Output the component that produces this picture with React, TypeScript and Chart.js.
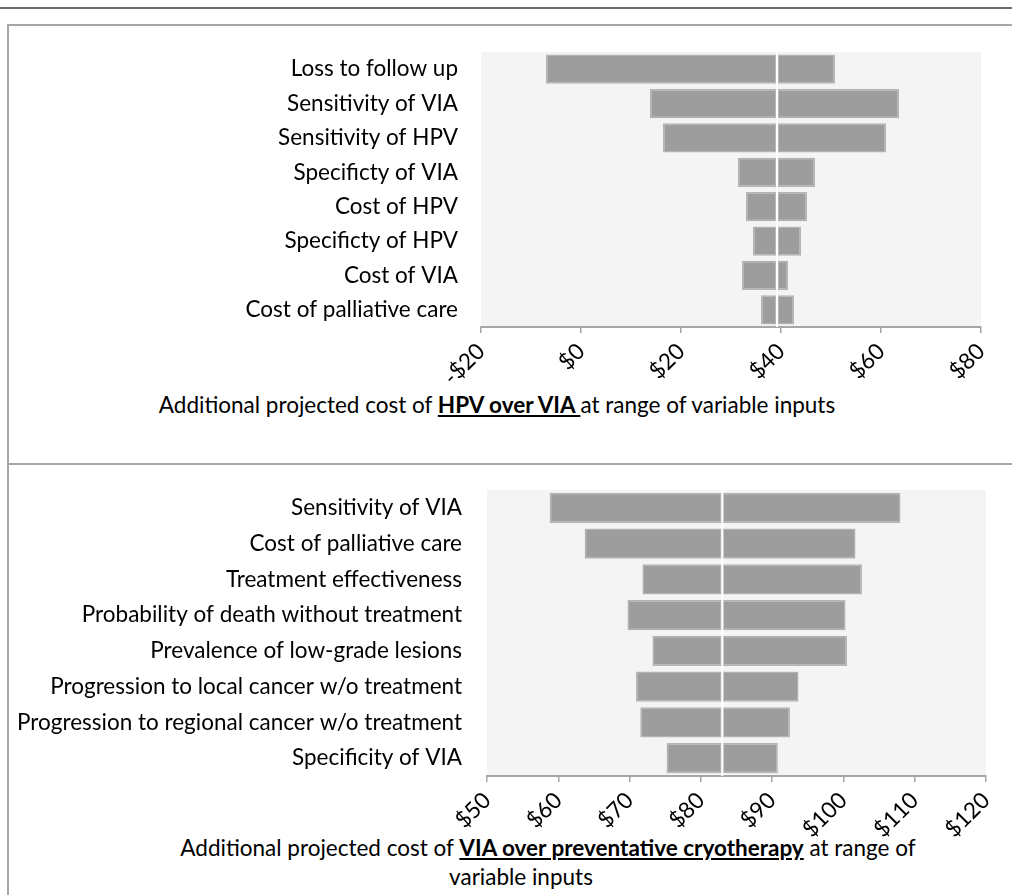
import React, { useEffect, useRef } from "react";
import { Chart, registerables } from "chart.js";

Chart.register(...registerables);

// ---------- Data ----------
const topCategories = [
  "Loss to follow up",
  "Sensitivity of VIA",
  "Sensitivity of HPV",
  "Specificty of VIA",
  "Cost of HPV",
  "Specificty of HPV",
  "Cost of VIA",
  "Cost of palliative care",
];
const topLow = [-7.0, 13.8, 16.4, 31.4, 33.0, 34.4, 32.2, 36.0];
const topHigh = [50.8, 63.6, 61.0, 46.8, 45.2, 44.0, 41.4, 42.6];
const topBase = 39.2;
const topTicks = { min: -20, max: 80, step: 20 };

const bottomCategories = [
  "Sensitivity of VIA",
  "Cost of palliative care",
  "Treatment effectiveness",
  "Probability of death without treatment",
  "Prevalence of low-grade lesions",
  "Progression to local cancer w/o treatment",
  "Progression to regional cancer w/o treatment",
  "Specificity of VIA",
];
const bottomLow = [58.8, 63.7, 71.8, 69.7, 73.2, 70.9, 71.5, 75.2];
const bottomHigh = [108.0, 101.7, 102.6, 100.3, 100.5, 93.7, 92.5, 90.8];
const bottomBase = 83.0;
const bottomTicks = { min: 50, max: 120, step: 10 };

const FONT = "Lato, 'Noto Sans', sans-serif";
const FS = 22.5;

function money(v: number): string {
  return v < 0 ? "-$" + Math.abs(v) : "$" + v;
}

type TornadoProps = {
  categories: string[];
  low: number[];
  high: number[];
  base: number;
  ticks: { min: number; max: number; step: number };
  left: number;
  top: number;
  width: number;
  height: number;
  padTop: number;
  padRight: number;
  yWidth: number;
  xHeight: number;
  labelPad: number;
};

function Tornado(p: TornadoProps) {
  const ref = useRef<HTMLCanvasElement | null>(null);
  useEffect(() => {
    if (!ref.current) return;
    const bgPlugin = {
      id: "plotBg",
      beforeDraw(chart: any) {
        const { ctx, chartArea } = chart;
        ctx.save();
        ctx.fillStyle = "#f4f4f4";
        ctx.fillRect(chartArea.left, chartArea.top, chartArea.right - chartArea.left, chartArea.bottom - chartArea.top);
        ctx.restore();
      },
    };
    const baseLine = {
      id: "baseLine",
      afterDatasetsDraw(chart: any) {
        const { ctx, chartArea } = chart;
        const x = chart.scales.x.getPixelForValue(p.base);
        ctx.save();
        ctx.strokeStyle = "#ffffff";
        ctx.lineWidth = 2;
        ctx.beginPath();
        ctx.moveTo(x, chartArea.top);
        ctx.lineTo(x, chartArea.bottom);
        ctx.stroke();
        ctx.restore();
      },
    };
    const barStyle = {
      backgroundColor: "#9d9d9d",
      borderColor: "#b3b3b3",
      borderWidth: 1.5,
      borderSkipped: false,
      grouped: false,
      barPercentage: 0.85,
      categoryPercentage: 1,
    };
    const chart = new Chart(ref.current, {
      type: "bar",
      data: {
        labels: p.categories,
        datasets: [
          { label: "Low", data: p.low.map((v) => [v, p.base]) as any, ...barStyle } as any,
          { label: "High", data: p.high.map((v) => [p.base, v]) as any, ...barStyle } as any,
        ],
      },
      options: {
        indexAxis: "y",
        animation: false,
        responsive: true,
        maintainAspectRatio: false,
        layout: { padding: { top: p.padTop, right: p.padRight, left: 0, bottom: 0 } },
        plugins: {
          legend: { display: false },
          tooltip: { enabled: false },
        },
        scales: {
          x: {
            type: "linear",
            min: p.ticks.min,
            max: p.ticks.max,
            afterFit(scale: any) {
              scale.height = p.xHeight;
              scale.paddingLeft = 0;
              scale.paddingRight = 0;
            },
            ticks: {
              stepSize: p.ticks.step,
              minRotation: 45,
              maxRotation: 45,
              padding: 5,
              color: "#000",
              font: { family: FONT, size: FS },
              callback: (v: any) => money(Number(v)),
            },
            grid: {
              drawOnChartArea: false,
              drawTicks: true,
              tickLength: 6,
              color: "#a6a6a6",
              lineWidth: 1.5,
            },
            border: { display: true, color: "#a6a6a6", width: 2 },
          },
          y: {
            type: "category",
            afterFit(scale: any) {
              scale.width = p.yWidth;
              scale.paddingTop = 0;
              scale.paddingBottom = 0;
            },
            ticks: {
              padding: 0,
              color: "#000",
              font: { family: FONT, size: FS },
            },
            grid: {
              display: true,
              drawOnChartArea: false,
              drawTicks: true,
              tickLength: p.labelPad,
              color: "rgba(0,0,0,0)",
            },
            border: { display: false },
          },
        },
      } as any,
      plugins: [bgPlugin, baseLine],
    });
    return () => chart.destroy();
  }, []);
  return (
    <div style={{ position: "absolute", left: p.left, top: p.top, width: p.width, height: p.height }}>
      <canvas ref={ref} />
    </div>
  );
}

export default function App() {
  const cap: React.CSSProperties = {
    position: "absolute",
    fontFamily: FONT,
    fontSize: FS,
    color: "#000",
    whiteSpace: "nowrap",
    transform: "translate(-50%, -50%)",
    lineHeight: "28px",
  };
  return (
    <div style={{ position: "absolute", left: 0, top: 0, width: 1012, height: 895, overflow: "hidden", background: "#fff" }}>
      <div style={{ position: "absolute", left: 0, top: 7, width: 1012, height: 2, background: "#6a6a6a" }} />
      <div style={{ position: "absolute", left: 7, top: 24, width: 1100, height: 1000, border: "2px solid #a6a6a6", boxSizing: "border-box" }} />
      <div style={{ position: "absolute", left: 7, top: 463, width: 1012, height: 2, background: "#a6a6a6" }} />
      <div style={{ ...cap, left: 497, top: 405 }}>
        Additional projected cost of <b style={{ textDecoration: "underline" }}>HPV over VIA </b>at range of variable inputs
      </div>
      <div style={{ ...cap, left: 548, top: 848 }}>
        Additional projected cost of <b style={{ textDecoration: "underline" }}>VIA over preventative cryotherapy</b> at range of
      </div>
      <div style={{ ...cap, left: 521, top: 877 }}>variable inputs</div>
      <Tornado
        categories={topCategories}
        low={topLow}
        high={topHigh}
        base={topBase}
        ticks={topTicks}
        left={9}
        top={26}
        width={1000}
        height={375}
        padTop={26}
        padRight={28}
        yWidth={472}
        xHeight={74}
        labelPad={23}
      />
      <Tornado
        categories={bottomCategories}
        low={bottomLow}
        high={bottomHigh}
        base={bottomBase}
        ticks={bottomTicks}
        left={9}
        top={467}
        width={1000}
        height={395}
        padTop={23}
        padRight={23}
        yWidth={478}
        xHeight={86}
        labelPad={25}
      />
    </div>
  );
}
